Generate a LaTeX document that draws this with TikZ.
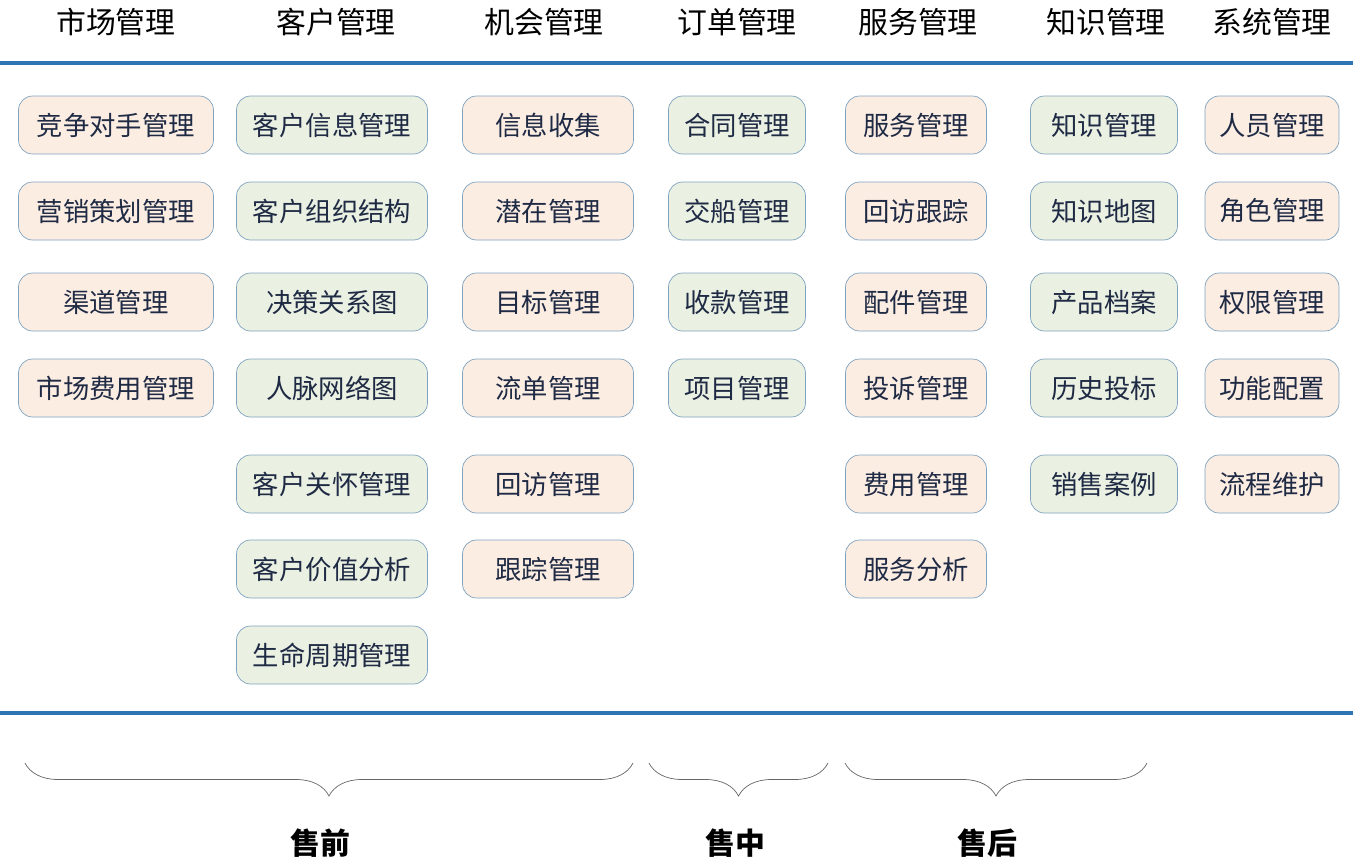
\documentclass[tikz,border=0pt]{standalone}
\usepackage{fontspec}
\setmainfont{Noto Sans CJK SC}
\usetikzlibrary{decorations.pathreplacing}
\definecolor{linecol}{HTML}{2E75B6}
\definecolor{orangefill}{HTML}{FCEDE3}
\definecolor{greenfill}{HTML}{EAF0E2}
\definecolor{boxline}{HTML}{7FA3BF}
\definecolor{textcol}{HTML}{1F2A44}
\begin{document}
\begin{tikzpicture}[x=0.02cm, y=-0.02cm,
		box_style/.style={rounded corners=8pt,draw=boxline,minimum height=1.16cm,font=\fontsize{15}{15}\selectfont,text=textcol},
		orange_style/.style={box_style,fill=orangefill},
		green_style/.style={box_style,fill=greenfill},
		head_style/.style={font=\fontsize{17}{17}\selectfont,text=black},
		brace_style/.style={draw=black!60,decorate,decoration={brace,mirror,amplitude=0.66cm}}]
		
		\useasboundingbox (0,0) rectangle (1353,867);
		
		\node[head_style] (h1) at (116,22) {市场管理};
		\node[head_style] (h2) at (336,22) {客户管理};
		\node[head_style] (h3) at (544,22) {机会管理};
		\node[head_style] (h4) at (737,22) {订单管理};
		\node[head_style] (h5) at (918,22) {服务管理};
		\node[head_style] (h6) at (1106,22) {知识管理};
		\node[head_style] (h7) at (1272,22) {系统管理};
		
		\draw[linecol,line width=2pt] (0,63) -- (1353,63);
		\draw[linecol,line width=2pt] (0,713) -- (1353,713);
		
		% columns: x, width, style, labels
		\foreach \i/\t in {1/竞争对手管理,2/营销策划管理,3/渠道管理,4/市场费用管理}
			\node[orange_style,minimum width=3.9cm] (a\i) at (116,{\i==1?125:(\i==2?211:(\i==3?302:388))}) {\t};
		\foreach \i/\t in {1/客户信息管理,2/客户组织结构,3/决策关系图,4/人脉网络图,5/客户关怀管理,6/客户价值分析,7/生命周期管理}
			\node[green_style,minimum width=3.82cm] (b\i) at (332,{\i==1?125:(\i==2?211:(\i==3?302:(\i==4?388:(\i==5?484:(\i==6?569:655)))))}) {\t};
		\foreach \i/\t in {1/信息收集,2/潜在管理,3/目标管理,4/流单管理,5/回访管理,6/跟踪管理}
			\node[orange_style,minimum width=3.42cm] (c\i) at (548,{\i==1?125:(\i==2?211:(\i==3?302:(\i==4?388:(\i==5?484:569))))}) {\t};
		\foreach \i/\t in {1/合同管理,2/交船管理,3/收款管理,4/项目管理}
			\node[green_style,minimum width=2.74cm] (d\i) at (737,{\i==1?125:(\i==2?211:(\i==3?302:388))}) {\t};
		\foreach \i/\t in {1/服务管理,2/回访跟踪,3/配件管理,4/投诉管理,5/费用管理,6/服务分析}
			\node[orange_style,minimum width=2.82cm] (e\i) at (916,{\i==1?125:(\i==2?211:(\i==3?302:(\i==4?388:(\i==5?484:569))))}) {\t};
		\foreach \i/\t in {1/知识管理,2/知识地图,3/产品档案,4/历史投标,5/销售案例}
			\node[green_style,minimum width=2.94cm] (f\i) at (1104,{\i==1?125:(\i==2?211:(\i==3?302:(\i==4?388:484)))}) {\t};
		\foreach \i/\t in {1/人员管理,2/角色管理,3/权限管理,4/功能配置,5/流程维护}
			\node[orange_style,minimum width=2.68cm] (g\i) at (1272,{\i==1?125:(\i==2?211:(\i==3?302:(\i==4?388:484)))}) {\t};
		
		\coordinate (pre_l) at (25,763);
		\coordinate (pre_r) at (633,763);
		\coordinate (mid_l) at (649,763);
		\coordinate (mid_r) at (828,763);
		\coordinate (post_l) at (845,763);
		\coordinate (post_r) at (1147,763);
		\draw[brace_style] (pre_l) -- (pre_r);
		\draw[brace_style] (mid_l) -- (mid_r);
		\draw[brace_style] (post_l) -- (post_r);
		
		\node[head_style,font=\fontsize{17}{17}\selectfont\bfseries] (pre) at (320,843) {售前};
		\node[head_style,font=\fontsize{17}{17}\selectfont\bfseries] (mid) at (735,843) {售中};
		\node[head_style,font=\fontsize{17}{17}\selectfont\bfseries] (post) at (987,843) {售后};
		
\end{tikzpicture}
\end{document}
